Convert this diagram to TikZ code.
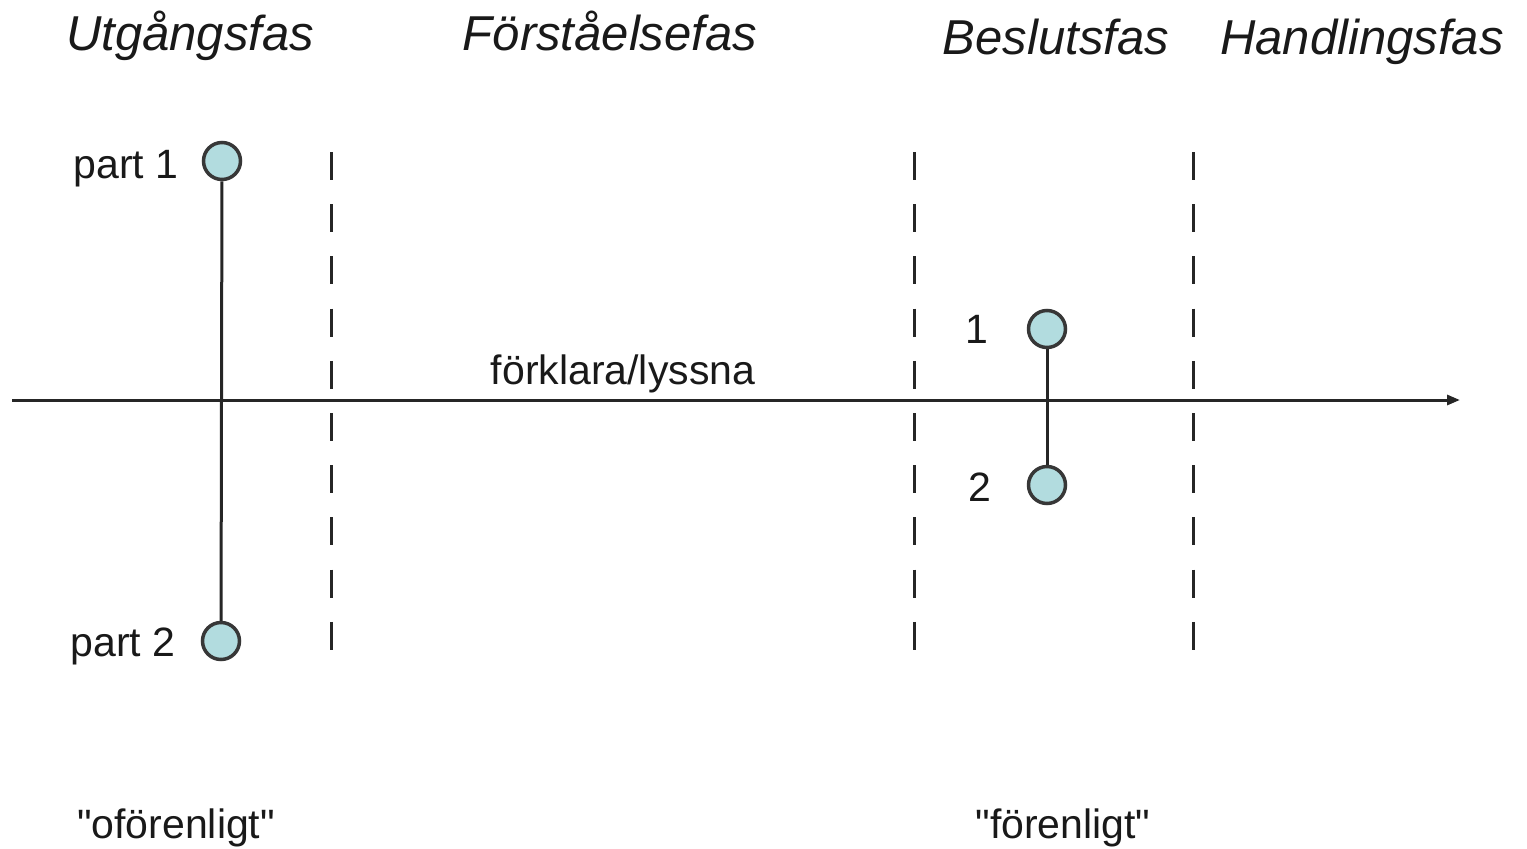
\documentclass[tikz,border=0pt]{standalone}
\usepackage{fontspec}
\setmainfont{Liberation Sans}
\usetikzlibrary{arrows.meta}
\definecolor{dotfill}{RGB}{178,220,223}
\definecolor{dotdraw}{RGB}{55,55,55}
\begin{document}
\begin{tikzpicture}[x=1pt,y=-1pt,
  phase/.style={font=\fontsize{49}{55}\selectfont\itshape, anchor=base, text=black!90},
  lbl/.style={font=\fontsize{41}{46}\selectfont, text=black!90},
  dot/.style={circle, draw=dotdraw, fill=dotfill, line width=3.5pt, minimum size=37pt, inner sep=0pt},
  divider/.style={line width=3pt, draw=black!85, dash pattern=on 28pt off 24.2pt},
  link/.style={line width=3pt, draw=black!85}]
\useasboundingbox (0,0) rectangle (1527,849);
% phase titles
\node[phase] (t1) at (190,50) {Utgångsfas};
\node[phase] (t2) at (610,50) {Förståelsefas};
\node[phase] (t3) at (1056,54) {Beslutsfas};
\node[phase] (t4) at (1362,54) {Handlingsfas};
% dividers
\coordinate (d1a) at (331,152); \coordinate (d1b) at (331,650);
\coordinate (d2a) at (914,152); \coordinate (d2b) at (914,650);
\coordinate (d3a) at (1193,152); \coordinate (d3b) at (1193,650);
\draw[divider] (d1a) -- (d1b);
\draw[divider] (d2a) -- (d2b);
\draw[divider] (d3a) -- (d3b);
% axis
\coordinate (axs) at (12,400);
\coordinate (axe) at (1460,400);
\draw[link, -{Triangle[length=13pt,width=10pt]}] (axs) -- (axe);
\node[lbl, anchor=base] (fl) at (623,384) {förklara/lyssna};
% dots
\node[dot] (p1) at (222,161) {};
\node[dot] (p2) at (221,641) {};
\node[dot] (q1) at (1047,329) {};
\node[dot] (q2) at (1047,485) {};
\draw[link] (p1) -- (p2);
\draw[link] (q1) -- (q2);
% labels
\node[lbl, anchor=base east] (lp1) at (182,178) {part 1};
\node[lbl, anchor=base east] (lp2) at (179,656) {part 2};
\node[lbl, anchor=base east] (l1) at (992,343) {1};
\node[lbl, anchor=base east] (l2) at (995,501) {2};
\node[lbl, anchor=base] (of) at (176,838) {\textquotedbl oförenligt\textquotedbl};
\node[lbl, anchor=base] (fo) at (1063,838) {\textquotedbl förenligt\textquotedbl};
\end{tikzpicture}
\end{document}
